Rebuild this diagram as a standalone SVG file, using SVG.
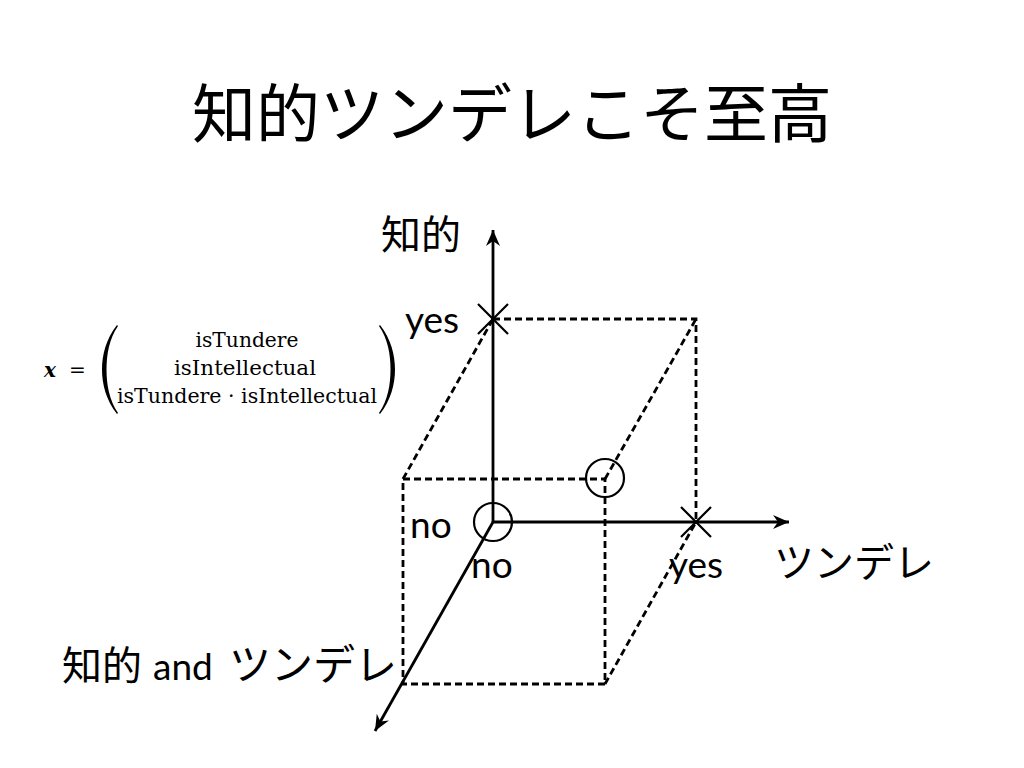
<svg xmlns="http://www.w3.org/2000/svg" width="1024" height="768" viewBox="0 0 1024 768">
<style>
.cjk{font-family:"Noto Sans CJK JP","Noto Sans CJK SC",sans-serif;fill:#000}
.lat{font-family:Lato,"Noto Sans CJK JP",sans-serif;fill:#000}
.math{font-family:"DejaVu Serif","Liberation Serif",serif;font-size:20px;fill:#000}
.axis{stroke:#000;stroke-width:2.8;fill:none}
.dash{stroke:#000;stroke-width:2.8;fill:none;stroke-dasharray:7 4}
.mark{stroke:#000;stroke-width:2.2;fill:none}
</style>
<defs>
<marker id="arr" markerUnits="userSpaceOnUse" viewBox="-17 -8 18 16" markerWidth="18" markerHeight="16" refX="0" refY="0" orient="auto">
<path d="M0,0 L-16,-7 L-11,0 L-16,7 Z" fill="#000"/>
</marker>
</defs>
<rect width="1024" height="768" fill="#fff"/>
<text id="title" class="cjk" x="512" y="137" font-size="64" text-anchor="middle">知的ツンデレこそ至高</text>

<g id="formula">
<text class="math" x="44" y="377" font-size="23" font-weight="bold" font-style="italic">x</text>
<text class="math" x="69" y="377" font-size="22">=</text>
<path d="M117,325 C106,339 102,355 102,369.5 C102,384 106,400 117,414 L118,413 C109,400 106.5,384 106.5,369.5 C106.5,355 109,339 118,326 Z" fill="#000"/>
<path d="M380,325 C391,339 395,355 395,369.5 C395,384 391,400 380,414 L379,413 C388,400 390.5,384 390.5,369.5 C390.5,355 388,339 379,326 Z" fill="#000"/>
<text class="math" x="247" y="347" text-anchor="middle" textLength="103" lengthAdjust="spacingAndGlyphs">isTundere</text>
<text class="math" x="245" y="375" text-anchor="middle" textLength="142" lengthAdjust="spacingAndGlyphs">isIntellectual</text>
<text class="math" x="247" y="403" text-anchor="middle" textLength="260" lengthAdjust="spacingAndGlyphs">isTundere · isIntellectual</text>
</g>

<g id="connectors">
<g id="cube">
<path class="dash" d="M493,319 H696 V522"/>
<path class="dash" d="M403,479 H605 V684 H403 Z"/>
<path class="dash" d="M403,479 L493,319"/>
<path class="dash" d="M605,479 L696,319"/>
<path class="dash" d="M605,684 L696,522"/>
</g>
<line id="axis-intellectual" class="axis" x1="493" y1="522" x2="493" y2="230" marker-end="url(#arr)"/>
<line id="axis-tundere" class="axis" x1="493" y1="522" x2="789" y2="522" marker-end="url(#arr)"/>
<line id="axis-both" class="axis" x1="493" y1="522" x2="375" y2="731" marker-end="url(#arr)"/>
</g>

<g id="marks">
<path class="mark" d="M478,304 L508,334 M508,304 L478,334"/>
<path class="mark" d="M681,507 L711,537 M711,507 L681,537"/>
<circle class="mark" cx="493" cy="522" r="19"/>
<circle class="mark" cx="605" cy="478" r="19"/>
</g>

<g id="labels">
<text id="lbl-intellectual" class="cjk" x="381" y="249" font-size="40">知的</text>
<text id="lbl-yes-v" class="lat" x="405" y="333" font-size="37">yes</text>
<text id="lbl-no-v" class="lat" x="410" y="538" font-size="37">no</text>
<text id="lbl-no-h" class="lat" x="471" y="578" font-size="37">no</text>
<text id="lbl-yes-h" class="lat" x="669" y="578" font-size="37">yes</text>
<text id="lbl-tundere" class="cjk" x="774" y="577" font-size="40">ツンデレ</text>
<text id="lbl-both" class="cjk" x="62" y="680" font-size="40">知的<tspan class="lat" x="153" font-size="37">and</tspan><tspan x="229" font-size="42">ツンデレ</tspan></text>
</g>
</svg>
